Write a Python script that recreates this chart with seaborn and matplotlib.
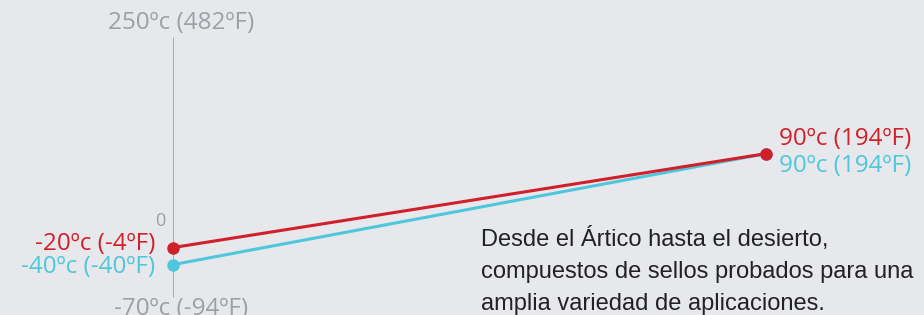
import pandas as pd
import seaborn as sns
import matplotlib.pyplot as plt

# data
x_pos = [0, 1]
series_names = ["Rojo", "Cian"]
red_c = [-20, 90]
red_f = [-4, 194]
cyan_c = [-40, 90]
cyan_f = [-40, 194]
axis_top = (250, 482)
axis_bottom = (-70, -94)
note = ("Desde el Ártico hasta el desierto,\n"
        "compuestos de sellos probados para una\n"
        "amplia variedad de aplicaciones.")

bg = "#e7e8ec"
red = "#d0202a"
cyan = "#4ec6dc"
grey = "#98a2a5"

df = pd.DataFrame({
    "x": x_pos + x_pos,
    "temp": cyan_c + red_c,
    "serie": [series_names[1]] * 2 + [series_names[0]] * 2,
})

sns.set_style("white")
plt.rcParams["font.family"] = ["Open Sans", "DejaVu Sans"]

fig = plt.figure(figsize=(9.24, 3.15), dpi=100, facecolor=bg)
ax = fig.add_axes([173 / 924, 0, (766 - 173) / 924, 1])
ax.set_facecolor(bg)

sns.lineplot(data=df, x="x", y="temp", hue="serie",
             palette={series_names[0]: red, series_names[1]: cyan},
             hue_order=[series_names[1], series_names[0]],
             marker="o", markersize=9, markeredgewidth=0, linewidth=2.2,
             legend=False, ax=ax)
for line in ax.lines:
    line.set_clip_on(False)

ax.set_xlim(0, 1)
ax.set_ylim(-99, 270)
ax.axis("off")

# vertical scale line
ax.axvline(0, ymin=(315 - 297) / 315, ymax=(315 - 38) / 315, color="#9a9fa3",
           linewidth=1.2, zorder=0)

fs = 17.5
ax.annotate(f"{axis_top[0]}ºc ({axis_top[1]}ºF)", (0, axis_top[0]),
            xytext=(8, -6), textcoords="offset pixels", ha="center", va="center",
            color=grey, fontsize=fs, annotation_clip=False)
ax.annotate(f"{axis_bottom[0]}ºc ({axis_bottom[1]}ºF)", (0, axis_bottom[0]),
            xytext=(8, -19), textcoords="offset pixels", ha="center", va="center",
            color=grey, fontsize=fs, annotation_clip=False)
ax.annotate("0", (0, 0), xytext=(-13, 9), textcoords="offset pixels",
            ha="center", va="center", color=grey, fontsize=13,
            annotation_clip=False)

# left labels
ax.annotate(f"{red_c[0]}ºc ({red_f[0]}ºF)", (0, red_c[0]), xytext=(-18, 4),
            textcoords="offset pixels", ha="right", va="center", color=red,
            fontsize=fs, annotation_clip=False)
ax.annotate(f"{cyan_c[0]}ºc ({cyan_f[0]}ºF)", (0, cyan_c[0]), xytext=(-18, -2),
            textcoords="offset pixels", ha="right", va="center", color=cyan,
            fontsize=fs, annotation_clip=False)

# right labels
ax.annotate(f"{red_c[1]}ºc ({red_f[1]}ºF)", (1, red_c[1]), xytext=(13, 15),
            textcoords="offset pixels", ha="left", va="center", color=red,
            fontsize=fs, annotation_clip=False)
ax.annotate(f"{cyan_c[1]}ºc ({cyan_f[1]}ºF)", (1, cyan_c[1]), xytext=(13, -12),
            textcoords="offset pixels", ha="left", va="center", color=cyan,
            fontsize=fs, annotation_clip=False)

fig.text(481 / 924, 1 - 227 / 315, note, ha="left", va="top", color="#222222",
         fontsize=17, family=["Liberation Sans", "DejaVu Sans"], linespacing=1.6)

fig.savefig("out.png", dpi=100, facecolor=bg)
